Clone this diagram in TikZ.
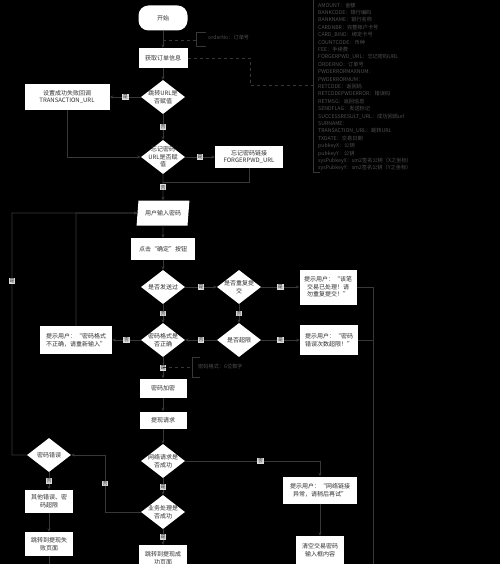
\documentclass[tikz,border=0pt]{standalone}
\usepackage{fontspec}
\setmainfont{Noto Sans CJK SC}
\usetikzlibrary{shapes.geometric,arrows.meta}
\definecolor{ln}{HTML}{383838}
\definecolor{tx}{HTML}{303030}
\definecolor{an}{HTML}{505050}
\definecolor{lb}{HTML}{DCDCDC}
\begin{document}
\begin{tikzpicture}[x=1pt,y=-1pt,
  box/.style={fill=white,text=tx,font=\fontsize{6}{7.6}\selectfont,align=center,inner sep=1pt},
  dia/.style={diamond,fill=white,inner sep=0pt,minimum width=44pt,minimum height=34pt},
  dtext/.style={text=tx,font=\fontsize{6}{7.6}\selectfont,align=center,inner sep=0pt},
  lbl/.style={fill=lb,text=tx,font=\fontsize{5}{5}\selectfont,inner sep=0.8pt},
  conn/.style={draw=ln,line width=0.6pt,-{Stealth[length=3.5pt,width=3pt]}},
  plain/.style={draw=ln,line width=0.6pt},
  note/.style={draw=ln,line width=0.6pt,dashed},
  brk/.style={draw=ln,line width=0.6pt},
  ann/.style={text=an,font=\fontsize{5.2}{7.4}\selectfont,align=left,inner sep=0pt}]
\useasboundingbox (0,0) rectangle (500,564);
\fill[black] (0,0) rectangle (500,564);
\clip (0,0) rectangle (500,564);

% nodes
\node[box,rounded corners=10pt,minimum width=49pt,minimum height=25pt] (start) at (163,18) {开始};
\node[box,minimum width=49pt,minimum height=20pt] (getinfo) at (163,58) {获取订单信息};
\node[dia] (d1) at (163,97) {};
\node[dtext] at (d1.center) {跳转URL是\\否赋值};
\node[box,minimum width=85pt,minimum height=26pt] (setcb) at (67,97) {设置成功失败回调\\TRANSACTION\_URL};
\node[dia] (d2) at (163,157) {};
\node[dtext] at (d2.center) {忘记密码\\URL是否赋\\值};
\node[box,minimum width=68pt,minimum height=21pt] (forget) at (249,157) {忘记密码链接\\FORGERPWD\_URL};
\node[trapezium,trapezium left angle=76,trapezium right angle=104,trapezium stretches=true,
  fill=white,text=tx,font=\fontsize{6}{7.6}\selectfont,inner sep=0pt,minimum width=53pt,minimum height=25pt] (input) at (163,213) {用户输入密码};
\node[box,minimum width=64pt,minimum height=22pt] (click) at (163,249) {点击“确定”按钮};
\node[dia] (d3) at (163,287) {};
\node[dtext] at (d3.center) {是否发送过};
\node[dia] (d4) at (239,287) {};
\node[dtext] at (d4.center) {是否重复提\\交};
\node[box,minimum width=57pt,minimum height=35pt] (msg1) at (328,287) {提示用户：“该笔\\交易已处理！请\\勿重复提交！”};
\node[dia] (d5) at (163,340) {};
\node[dtext] at (d5.center) {密码格式是\\否正确};
\node[dia] (d6) at (239,340) {};
\node[dtext] at (d6.center) {是否超限};
\node[box,minimum width=58pt,minimum height=30pt] (msg2) at (329,340) {提示用户：“密码\\错误次数超限！”};
\node[box,minimum width=72pt,minimum height=28pt] (msg3) at (76,340) {提示用户：“密码格式\\不正确，请重新输入”};
\node[box,minimum width=47pt,minimum height=19pt] (encrypt) at (163,388) {密码加密};
\node[box,minimum width=47pt,minimum height=17pt] (req) at (163,420) {提现请求};
\node[dia] (d7) at (163,461) {};
\node[dtext] at (d7.center) {网络请求是\\否成功};
\node[dia] (d8) at (163,512) {};
\node[dtext] at (d8.center) {业务处理是\\否成功};
\node[dia] (d9) at (49,455) {};
\node[dtext] at (d9.center) {密码错误};
\node[box,minimum width=74pt,minimum height=27pt] (msg4) at (320,490) {提示用户：“网络链接\\异常，请稍后再试”};
\node[box,minimum width=48pt,minimum height=28pt] (clear) at (320,550) {清空交易密码\\输入框内容};
\node[box,minimum width=48pt,minimum height=26pt] (succ) at (163,558) {跳转到提现成\\功页面};
\node[box,minimum width=48pt,minimum height=23pt] (err1) at (49,501) {其他错误、密\\码超限};
\node[box,minimum width=48pt,minimum height=24pt] (fail) at (49,544) {跳转到提现失\\败页面};

% coordinates
\coordinate (c1) at (67,157);
\coordinate (c2) at (249,182);
\coordinate (c3) at (163,182);
\coordinate (c4) at (373,287);
\coordinate (c5) at (373,340);
\coordinate (c6) at (373,566);
\coordinate (c7) at (76,213);
\coordinate (c8) at (105,512);
\coordinate (c9) at (105,455);
\coordinate (c10) at (12,455);
\coordinate (c11) at (12,213);
\coordinate (c12) at (320,461);
\coordinate (c13) at (49,566);

% connectors
\draw[conn] (start) -- (getinfo);
\draw[conn] (getinfo) -- (d1);
\draw[conn] (d1.west) -- node[lbl]{是} (setcb.east);
\draw[conn] (d1.south) -- node[lbl]{否} (d2.north);
\draw[conn] (setcb.south) -- (c1) -- (d2.west);
\draw[conn] (d2.east) -- node[lbl]{是} (forget.west);
\draw[plain] (forget.south) -- (c2) -- (c3);
\draw[conn] (d2.south) -- node[lbl]{否} (input.north);
\draw[conn] (input) -- (click);
\draw[conn] (click) -- (d3);
\draw[conn] (d3.east) -- node[lbl]{是} (d4.west);
\draw[conn] (d4.east) -- node[lbl]{是} (msg1.west);
\draw[plain] (msg1.east) -- (c4) -- (c6);
\draw[conn] (d4.south) -- node[lbl]{否} (d6.north);
\draw[conn] (d6.east) -- node[lbl]{是} (msg2.west);
\draw[plain] (msg2.east) -- (c5);
\draw[conn] (d6.west) -- node[lbl]{否} (d5.east);
\draw[conn] (d3.south) -- node[lbl]{否} (d5.north);
\draw[conn] (d5.west) -- node[lbl]{否} (msg3.east);
\draw[conn] (msg3.north) -- (c7) -- (input.west);
\draw[conn] (d5.south) -- node[lbl]{是} (encrypt.north);
\draw[conn] (encrypt) -- (req);
\draw[conn] (req) -- (d7);
\draw[conn] (d7.east) -- node[lbl,pos=0.56]{否} (c12) -- (msg4.north);
\draw[conn] (msg4) -- (clear);
\draw[conn] (d7.south) -- node[lbl]{是} (d8.north);
\draw[conn] (d8.south) -- node[lbl]{是} (succ.north);
\draw[conn] (d8.west) -- (c8) -- node[lbl]{否} (c9) -- (d9.east);
\draw[conn] (d9.west) -- (c10) -- node[lbl,pos=0.72]{是} (c11) -- (input.west);
\draw[conn] (d9.south) -- node[lbl]{否} (err1.north);
\draw[conn] (err1) -- (fail);
\draw[plain] (fail.south) -- (c13);

% annotations
\coordinate (o1) at (163,40);
\coordinate (o2) at (196,40);
\draw[note] (o1) -- (o2);
\draw[brk] (206,32) -- (196,32) -- (196,46) -- (206,46);
\node[ann,anchor=west] (onote) at (208,38) {orderNo：订单号};

\coordinate (p1) at (250,58);
\coordinate (p2) at (250,85);
\coordinate (p3) at (313,85);
\draw[note] (getinfo.east) -- (p1) -- (p2) -- (p3);
\draw[brk] (320,-2) -- (313,-2) -- (313,172) -- (320,172);
\node[ann,anchor=north west] (fields) at (318,2.5) {AMOUNT：金额\\BANKCODE：银行编码\\BANKNAME：银行名称\\CARDNBR：完整账户卡号\\CARD\_BIND：绑定卡号\\COUNTCODE：币种\\FEE：手续费\\FORGERPWD\_URL：忘记密码URL\\ORDERNO：订单号\\PWDERRORMAXNUM：\\PWDERRORNUM：\\RETCODE：返回码\\RETCODEPWDERROR：错误码\\RETMSG：返回信息\\SENDFLAG：发送标记\\SUCCESSRESULT\_URL：成功回调url\\SURNAME：\\TRANSACTION\_URL：跳转URL\\TXDATE：交易日期\\pubkeyX：公钥\\pubkeyY：公钥\\sysPubkeyX：sm2签名公钥（X之坐标）\\sysPubkeyY：sm2签名公钥（Y之坐标）};

\coordinate (q1) at (163,367);
\coordinate (q2) at (192,367);
\draw[note] (q1) -- (q2);
\draw[brk] (200,357) -- (192,357) -- (192,377) -- (200,377);
\node[ann,anchor=west] (pnote) at (198,367) {密码格式：6位数字};
\end{tikzpicture}
\end{document}
